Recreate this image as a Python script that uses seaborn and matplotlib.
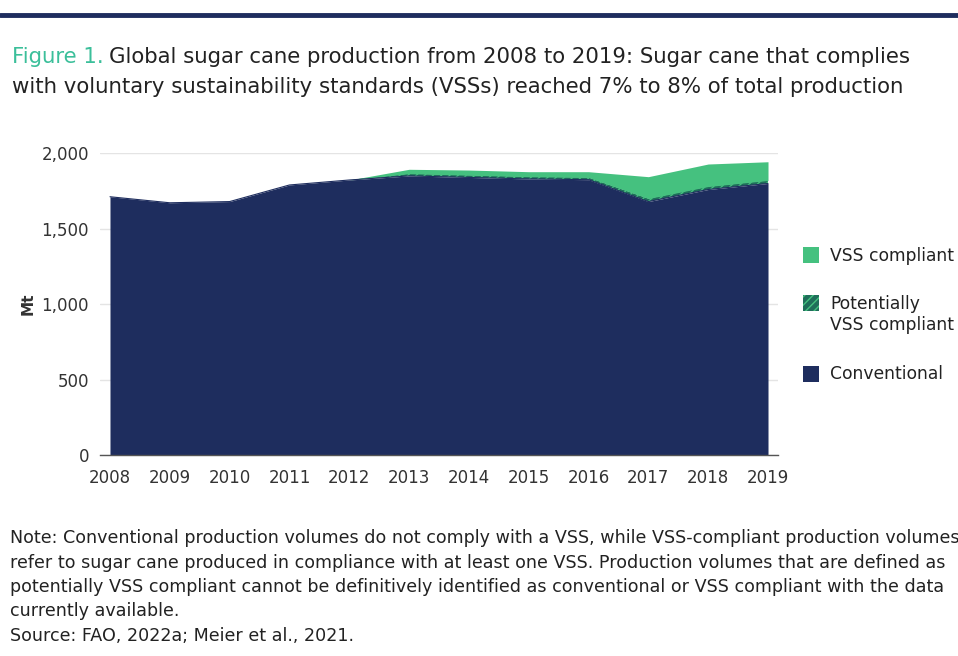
import matplotlib
matplotlib.use("Agg")
import matplotlib.pyplot as plt
import matplotlib.patches as mpatches
import seaborn as sns
import pandas as pd

years = [2008, 2009, 2010, 2011, 2012, 2013, 2014, 2015, 2016, 2017, 2018, 2019]
conventional = [1712, 1672, 1680, 1790, 1823, 1850, 1840, 1830, 1825, 1680, 1760, 1800]
potentially_vss = [0, 0, 0, 0, 0, 15, 15, 15, 15, 20, 20, 20]
vss_compliant = [0, 0, 0, 0, 0, 29, 34, 33, 38, 145, 149, 124]
y_ticks = [0, 500, 1000, 1500, 2000]

df = pd.DataFrame({"year": years, "Conventional": conventional,
                   "Potentially VSS compliant": potentially_vss,
                   "VSS compliant": vss_compliant})

sns.set_theme(style="white")
FONT = ["DejaVu Sans"]
plt.rcParams["font.family"] = FONT

NAVY = "#1e2d5e"
GREEN = "#45c17f"
TEAL = "#1f6e5a"
TEXT = "#222222"

fig = plt.figure(figsize=(9.58, 6.56), dpi=100)
ax = fig.add_axes([100/958, 1-455/656, 678/958, (455-153.3)/656])

ax.set_axisbelow(True)
ax.yaxis.grid(True, color="#e4e4e4", linewidth=1)
polys = ax.stackplot(df["year"], df["Conventional"], df["Potentially VSS compliant"],
                     df["VSS compliant"], colors=[NAVY, TEAL, GREEN], linewidth=0)
polys[1].set_hatch("////")
polys[1].set_edgecolor(GREEN)
sns.lineplot(x=df["year"], y=df["Conventional"], ax=ax, color=NAVY, linewidth=0.8)

ax.set_xlim(2007.833, 2019.167)
ax.set_ylim(0, 2000)
ax.set_yticks(y_ticks)
ax.set_yticklabels([f"{v:,}" for v in y_ticks])
ax.set_xticks(years)
ax.set_xticklabels([str(y) for y in years])
ax.tick_params(axis="both", length=0, labelsize=12, colors="#333333")
ax.tick_params(axis="y", pad=8)
ax.tick_params(axis="x", pad=10)
ax.set_xlabel("")
ax.set_ylabel("Mt", fontsize=11, fontweight="bold", color="#333333", labelpad=4)
for s in ["top", "right", "left"]:
    ax.spines[s].set_visible(False)
ax.spines["bottom"].set_color("#555555")
ax.spines["bottom"].set_linewidth(1)

# top rule
fig.add_artist(plt.Line2D([0, 1], [1-15/656, 1-15/656], color="#1e2d5e", linewidth=3.5))

# title
TS = 15.3
t1 = fig.text(12/958, 1-57/656, "Figure 1.", color="#3bbf9a", fontsize=TS, va="center", ha="left")
fig.canvas.draw()
bb = t1.get_window_extent(fig.canvas.get_renderer())
fig.text((bb.x1 + 5)/958, 1-57/656,
         "Global sugar cane production from 2008 to 2019: Sugar cane that complies",
         color=TEXT, fontsize=TS, va="center", ha="left")
fig.text(12/958, 1-87/656,
         "with voluntary sustainability standards (VSSs) reached 7% to 8% of total production",
         color=TEXT, fontsize=TS, va="center", ha="left")

# legend
def leg_patch(y, color, hatch=None):
    p = mpatches.Rectangle((803/958, 1-(y+8)/656), 16/958, 16/656, transform=fig.transFigure,
                           facecolor=color, edgecolor=GREEN if hatch else color,
                           hatch=hatch, linewidth=0)
    fig.add_artist(p)
leg_patch(255, GREEN)
leg_patch(303, TEAL, "////")
leg_patch(374, NAVY)
LS = 12.3
fig.text(830/958, 1-256/656, "VSS compliant", fontsize=LS, color=TEXT, va="center")
fig.text(830/958, 1-304/656, "Potentially", fontsize=LS, color=TEXT, va="center")
fig.text(830/958, 1-325/656, "VSS compliant", fontsize=LS, color=TEXT, va="center")
fig.text(830/958, 1-374/656, "Conventional", fontsize=LS, color=TEXT, va="center")

# notes
notes = [
    "Note: Conventional production volumes do not comply with a VSS, while VSS-compliant production volumes",
    "refer to sugar cane produced in compliance with at least one VSS. Production volumes that are defined as",
    "potentially VSS compliant cannot be definitively identified as conventional or VSS compliant with the data",
    "currently available.",
]
NS = 12.6
for i, line in enumerate(notes):
    fig.text(10/958, 1-(538+24.5*i)/656, line, fontsize=NS, color=TEXT, va="center")
fig.text(10/958, 1-636/656, "Source: FAO, 2022a; Meier et al., 2021.", fontsize=NS, color=TEXT, va="center")

fig.savefig("out.png", dpi=100)
